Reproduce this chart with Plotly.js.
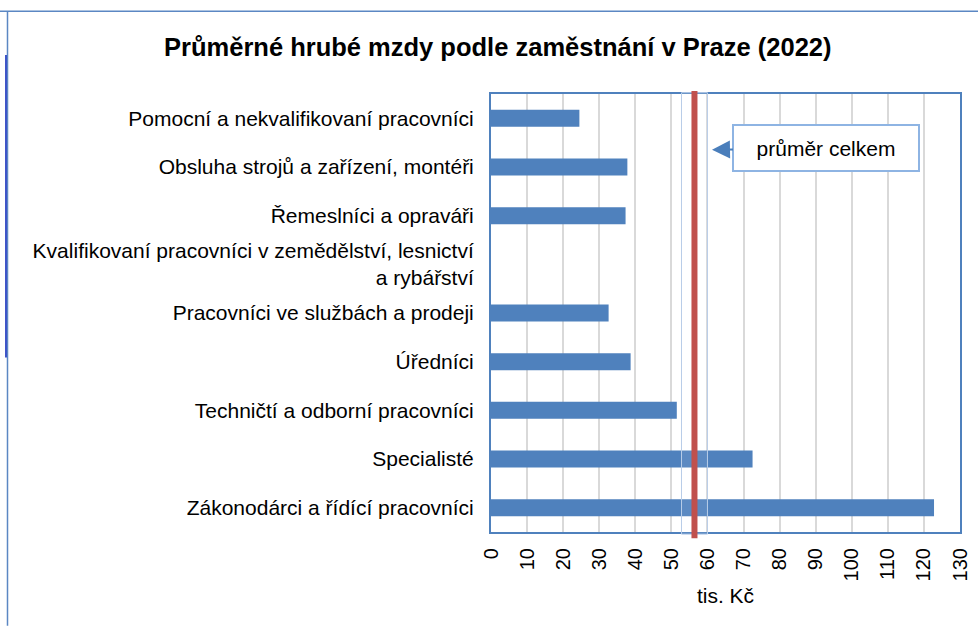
<!DOCTYPE html>
<html>
<head>
<meta charset="utf-8">
<script src="https://cdn.plot.ly/plotly-3.0.1.min.js"></script>
<style>html,body{margin:0;padding:0;background:#fff;}#chart{width:978px;height:627px;}</style>
</head>
<body>
<div id="chart"></div>
<script>
const categories = [
  "Pomocní a nekvalifikovaní pracovníci",
  "Obsluha strojů a zařízení, montéři",
  "Řemeslníci a opraváři",
  "Kvalifikovaní pracovníci v zemědělství, lesnictví<br>a rybářství",
  "Pracovníci ve službách a prodeji",
  "Úředníci",
  "Techničtí a odborní pracovníci",
  "Specialisté",
  "Zákonodárci a řídící pracovníci"
];
const wages = [24.5, 37.8, 37.3, null, 32.6, 38.7, 51.5, 72.5, 122.8];
const overallMean = 56.4;
const xTicks = [0,10,20,30,40,50,60,70,80,90,100,110,120,130];
const titleText = "Průměrné hrubé mzdy podle zaměstnání v Praze (2022)";
const xTitle = "tis. Kč";
const meanLabel = "průměr celkem";

const font = "Arial, 'Liberation Sans', sans-serif";

const trace = {
  type: "bar",
  orientation: "h",
  y: categories,
  x: wages,
  marker: {color: "#4F81BD", line: {width: 0}},
  hoverinfo: "x+y"
};

const layout = {
  width: 978, height: 627,
  margin: {l: 491, r: 18, t: 94, b: 95},
  paper_bgcolor: "#fff", plot_bgcolor: "#fff",
  showlegend: false,
  bargap: 0.65,
  font: {family: font, color: "#000", size: 21},
  title: {text: "<b>" + titleText + "</b>", font: {family: font, size: 25.5, color: "#000"},
          x: 0.509, xanchor: "center", y: 0.925, yanchor: "middle"},
  xaxis: {
    range: [0, 130], tickvals: xTicks, ticktext: xTicks.map(String), tickangle: -90,
    showgrid: true, gridcolor: "#D9D9D9", gridwidth: 2,
    zeroline: false, showline: true, mirror: true, linecolor: "#4F81BD", linewidth: 2,
    ticks: "", ticklen: 0, tickfont: {size: 20, family: font}, ticklabelstandoff: 6,
    title: {text: xTitle, font: {size: 21, family: font}, standoff: 8}
  },
  yaxis: {
    autorange: "reversed", type: "category",
    showgrid: false, zeroline: false, showline: true, mirror: true, linecolor: "#4F81BD", linewidth: 2,
    ticks: "", tickfont: {size: 21, family: font}, ticklabelstandoff: 11
  },
  shapes: [
    {type: "line", xref: "paper", yref: "paper", x0: -491/469, x1: 487/469, y0: (533-11)/439, y1: (533-11)/439,
     line: {color: "#5B87C3", width: 1.5}},
    {type: "line", xref: "paper", yref: "paper", x0: -(491-7.5)/469, x1: -(491-7.5)/469, y0: (533-11)/439, y1: (533-627)/439,
     line: {color: "#5B87C3", width: 1.5}},
    {type: "line", xref: "paper", yref: "paper", x0: -(491-6)/469, x1: -(491-6)/469, y0: (533-55)/439, y1: (533-358)/439,
     line: {color: "#3F55C8", width: 2}},
    {type: "rect", xref: "x", yref: "paper", x0: overallMean - 3.6, x1: overallMean + 3.6, y0: -0.005, y1: 1.003,
     fillcolor: "rgba(255,255,255,0.08)", line: {color: "#B9CDE8", width: 1}, layer: "above"},
    {type: "line", xref: "x", yref: "paper", x0: overallMean, x1: overallMean, y0: -0.014, y1: 1.007,
     line: {color: "#C0504D", width: 6}, layer: "above"}
  ],
  annotations: [
    {xref: "paper", yref: "paper", x: (712-491)/469, y: (533-150)/439,
     text: meanLabel, showarrow: true, arrowhead: 2, arrowsize: 1.8, arrowwidth: 2, arrowcolor: "#4A7EBB",
     ax: 114, ay: -2, font: {size: 21, family: font, color: "#000"},
     bordercolor: "#8EB4E3", borderwidth: 2, bgcolor: "#fff", width: 182, height: 42, align: "center"}
  ]
};

Plotly.newPlot("chart", [trace], layout, {displayModeBar: false, staticPlot: true});
</script>
</body>
</html>
